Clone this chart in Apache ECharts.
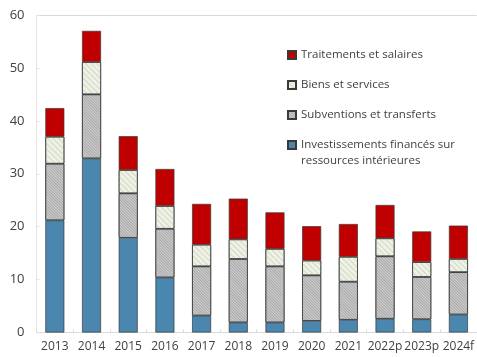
<!DOCTYPE html>
<html>
<head>
<meta charset="utf-8">
<script src="https://cdn.jsdelivr.net/npm/echarts@6/dist/echarts.min.js"></script>
<style>
  html, body { margin: 0; padding: 0; background: #ffffff; }
  #chart { width: 477px; height: 357px; }
</style>
</head>
<body>
<div id="chart"></div>
<script>
// Years (p = provisional, f = forecast)
const years = ['2013', '2014', '2015', '2016', '2017', '2018', '2019', '2020', '2021', '2022p', '2023p', '2024f'];

// Spending components, stacked from bottom to top
const investissements = [21.2, 32.9, 17.9, 10.4, 3.2, 1.9, 1.9, 2.2, 2.4, 2.6, 2.5, 3.4];
const subventions     = [10.7, 12.1, 8.4, 9.2, 9.3, 12.0, 10.6, 8.6, 7.2, 11.8, 8.0, 8.0];
const biens           = [5.1, 6.1, 4.4, 4.3, 4.1, 3.7, 3.3, 2.8, 4.7, 3.4, 2.8, 2.5];
const traitements     = [5.4, 5.9, 6.4, 7.0, 7.7, 7.7, 6.9, 6.5, 6.2, 6.3, 5.8, 6.3];

const seriesNames = {
  inv: 'Investissements financés sur\nressources intérieures',
  sub: 'Subventions et transferts',
  bie: 'Biens et services',
  tra: 'Traitements et salaires'
};

const yTicks = [0, 10, 20, 30, 40, 50, 60];

const FONT = '"Open Sans", "Noto Sans", sans-serif';
const outline = { borderColor: '#3a3a3a', borderWidth: 0.7 };

function stackedBar(name, data, style) {
  return {
    name: name,
    type: 'bar',
    stack: 'total',
    barWidth: 19,
    data: data,
    itemStyle: Object.assign({}, outline, style)
  };
}

const legendText = { fontFamily: FONT, fontSize: 11.5, color: '#404040', lineHeight: 16 };
const legendBase = {
  orient: 'vertical',
  left: 287,
  padding: 0,
  itemWidth: 8,
  itemHeight: 8,
  itemGap: 14,
  icon: 'rect',
  textStyle: legendText
};

const chart = echarts.init(document.getElementById('chart'), null, { renderer: 'canvas' });

chart.setOption({
  backgroundColor: '#ffffff',
  animation: false,
  grid: { left: 36.5, top: 15, width: 444, bottom: 24.5, containLabel: false },
  legend: [
    Object.assign({}, legendBase, {
      top: 47,
      data: [seriesNames.tra, seriesNames.bie, seriesNames.sub]
    }),
    // two-line entry: an empty leading line centres the icon on the first text line
    Object.assign({}, legendBase, {
      top: 121,
      formatter: name => '\n' + name,
      data: [seriesNames.inv]
    })
  ],
  xAxis: {
    type: 'category',
    data: years,
    axisLine: { show: true, lineStyle: { color: '#d9d9d9', width: 1 } },
    axisTick: { show: true, inside: true, length: 3, lineStyle: { color: '#d9d9d9' } },
    axisLabel: { interval: 0, hideOverlap: false, fontFamily: FONT, fontSize: 12, color: '#404040', margin: 8 },
    splitLine: { show: false }
  },
  yAxis: {
    type: 'value',
    min: yTicks[0],
    max: yTicks[yTicks.length - 1],
    interval: 10,
    axisLine: { show: true, lineStyle: { color: '#e3e3e3', width: 1 } },
    axisTick: { show: true, inside: true, length: 3, lineStyle: { color: '#e3e3e3' } },
    axisLabel: { fontFamily: FONT, fontSize: 13, color: '#404040', margin: 12 },
    splitLine: {
      show: true,
      lineStyle: {
        // only the top border line is visible
        color: yTicks.map((v, i) => i === yTicks.length - 1 ? '#d9d9d9' : 'rgba(0,0,0,0)'),
        width: 1
      }
    }
  },
  series: [
    stackedBar(seriesNames.inv, investissements, { color: '#4a86ad' }),
    stackedBar(seriesNames.sub, subventions, {
      color: '#d0d0d0',
      decal: {
        symbol: 'rect', symbolSize: 1,
        dashArrayX: [1, 0], dashArrayY: [1, 1],
        rotation: Math.PI / 4,
        color: 'rgba(140,140,140,0.6)'
      }
    }),
    stackedBar(seriesNames.bie, biens, {
      color: '#eef2e6',
      decal: {
        symbol: 'rect', symbolSize: 1,
        dashArrayX: [1, 0], dashArrayY: [1, 2.5],
        rotation: Math.PI / 4,
        color: 'rgba(200,210,185,0.8)'
      }
    }),
    stackedBar(seriesNames.tra, traitements, { color: '#c00000' })
  ]
});
</script>
</body>
</html>
